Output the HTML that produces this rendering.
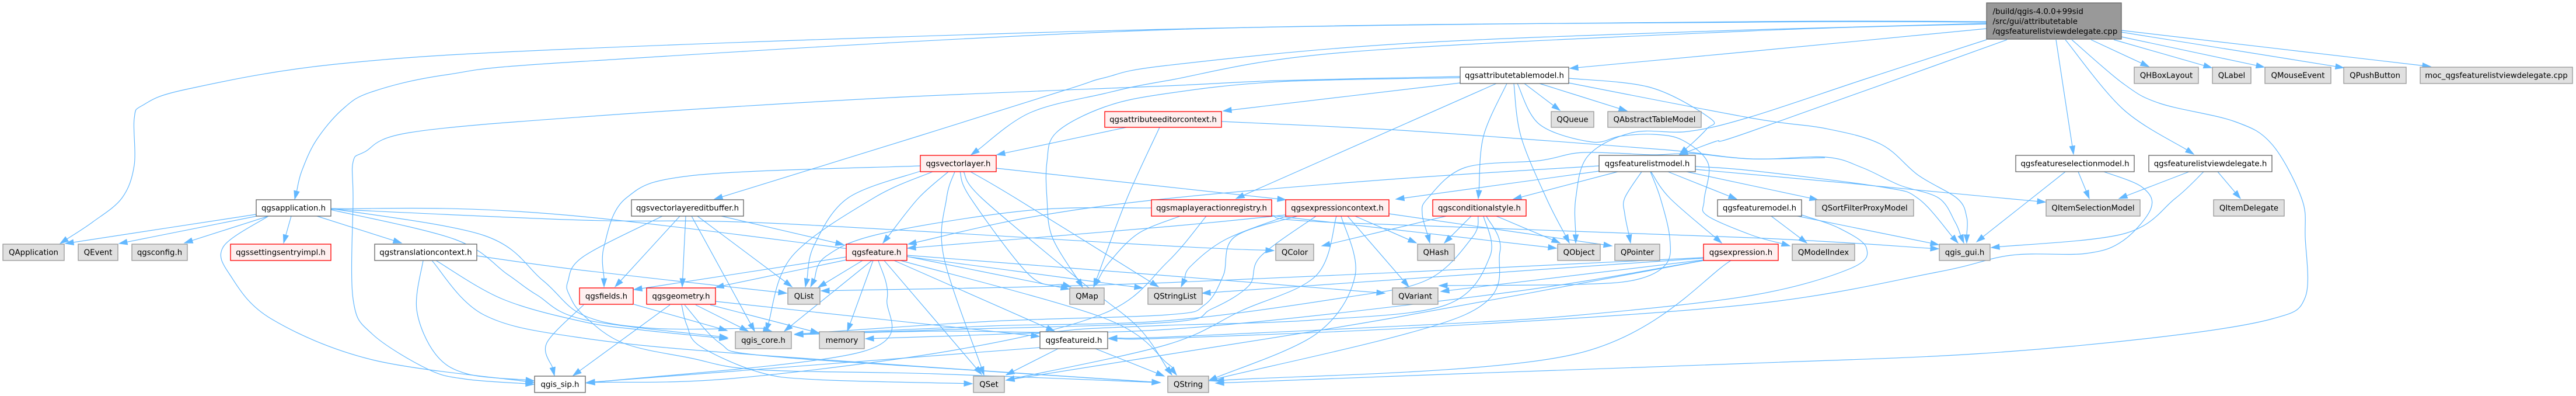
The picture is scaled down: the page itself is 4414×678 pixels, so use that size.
<!DOCTYPE html>
<html><head><meta charset="utf-8"><style>
html,body{margin:0;padding:0;background:#fff;width:4414px;height:678px;overflow:hidden}
svg{display:block}
text{font-family:"DejaVu Sans","Liberation Sans",sans-serif;font-size:13.33px;fill:#000;text-anchor:middle}
.g{fill:#e0e0e0;stroke:#999;stroke-width:1.33}
.w{fill:#fff;stroke:#666;stroke-width:1.33}
.r{fill:#fff0f0;stroke:#f00;stroke-width:1.33}
.m{fill:#999;stroke:#666;stroke-width:1.33}
#e path{fill:none;stroke:#63b8ff;stroke-width:1.2}
#e polygon{fill:#63b8ff;stroke:#63b8ff;stroke-width:1}
</style></head><body>
<svg xmlns="http://www.w3.org/2000/svg" width="4414" height="678" viewBox="0 0 4414 678">
<rect width="4414" height="678" fill="#fff"/>
<g id="e"></g>
<g id="n">
<rect class="m" x="3404" y="5" width="231" height="62"/>
<text x="3414.5" y="24" style="text-anchor:start">/build/qgis-4.0.0+99sid</text>
<text x="3414.5" y="41" style="text-anchor:start">/src/gui/attributetable</text>
<text x="3414.5" y="58" style="text-anchor:start">/qgsfeaturelistviewdelegate.cpp</text>
<rect class="w" x="439" y="342" width="128" height="28"/><text x="503" y="360.5">qgsapplication.h</text>
<rect class="g" x="5" y="418" width="105" height="28"/><text x="57.5" y="436.5">QApplication</text>
<rect class="g" x="134" y="418" width="68" height="28"/><text x="168" y="436.5">QEvent</text>
<rect class="g" x="226" y="418" width="95" height="28"/><text x="273.5" y="436.5">qgsconfig.h</text>
<rect class="r" x="395" y="418" width="172" height="28"/><text x="481" y="436.5">qgssettingsentryimpl.h</text>
<rect class="w" x="642" y="418" width="175" height="28"/><text x="729.5" y="436.5">qgstranslationcontext.h</text>
<rect class="w" x="916" y="644" width="87" height="28"/><text x="959.5" y="662.5">qgis_sip.h</text>
<rect class="w" x="1082" y="342" width="192" height="28"/><text x="1178" y="360.5">qgsvectorlayereditbuffer.h</text>
<rect class="r" x="1450" y="418" width="104" height="28"/><text x="1502" y="436.5">qgsfeature.h</text>
<rect class="r" x="993" y="493" width="92" height="28"/><text x="1039" y="511.5">qgsfields.h</text>
<rect class="r" x="1108" y="493" width="118" height="28"/><text x="1167" y="511.5">qgsgeometry.h</text>
<rect class="g" x="1350" y="493" width="55" height="28"/><text x="1377.5" y="511.5">QList</text>
<rect class="g" x="1833" y="493" width="59" height="28"/><text x="1862.5" y="511.5">QMap</text>
<rect class="g" x="1967" y="493" width="93" height="28"/><text x="2013.5" y="511.5">QStringList</text>
<rect class="g" x="1260" y="568" width="96" height="29"/><text x="1308" y="587">qgis_core.h</text>
<rect class="g" x="1404" y="568" width="77" height="29"/><text x="1442.5" y="587">memory</text>
<rect class="w" x="1782" y="568" width="116" height="29"/><text x="1840" y="587">qgsfeatureid.h</text>
<rect class="g" x="1668" y="644" width="53" height="28"/><text x="1694.5" y="662.5">QSet</text>
<rect class="r" x="1577" y="266" width="130" height="28"/><text x="1642" y="284.5">qgsvectorlayer.h</text>
<rect class="r" x="1893" y="191" width="200" height="27"/><text x="1993" y="209">qgsattributeeditorcontext.h</text>
<rect class="w" x="2502" y="115" width="186" height="28"/><text x="2595" y="133.5">qgsattributetablemodel.h</text>
<rect class="g" x="2658" y="191" width="73" height="27"/><text x="2694.5" y="209">QQueue</text>
<rect class="g" x="2755" y="191" width="160" height="27"/><text x="2835" y="209">QAbstractTableModel</text>
<rect class="w" x="2740" y="266" width="165" height="28"/><text x="2822.5" y="284.5">qgsfeaturelistmodel.h</text>
<rect class="r" x="1973" y="342" width="206" height="28"/><text x="2076" y="360.5">qgsmaplayeractionregistry.h</text>
<rect class="r" x="2203" y="342" width="177" height="28"/><text x="2291.5" y="360.5">qgsexpressioncontext.h</text>
<rect class="r" x="2455" y="342" width="160" height="28"/><text x="2535" y="360.5">qgsconditionalstyle.h</text>
<rect class="w" x="2943" y="342" width="144" height="28"/><text x="3015" y="360.5">qgsfeaturemodel.h</text>
<rect class="g" x="2186" y="418" width="65" height="28"/><text x="2218.5" y="436.5">QColor</text>
<rect class="g" x="2429" y="418" width="63" height="28"/><text x="2460.5" y="436.5">QHash</text>
<rect class="g" x="2669" y="418" width="73" height="28"/><text x="2705.5" y="436.5">QObject</text>
<rect class="g" x="2767" y="418" width="77" height="28"/><text x="2805.5" y="436.5">QPointer</text>
<rect class="r" x="2919" y="418" width="128" height="28"/><text x="2983" y="436.5">qgsexpression.h</text>
<rect class="g" x="2386" y="493" width="78" height="28"/><text x="2425" y="511.5">QVariant</text>
<rect class="g" x="2001" y="644" width="70" height="28"/><text x="2036" y="662.5">QString</text>
<rect class="g" x="3657" y="115" width="110" height="28"/><text x="3712" y="133.5">QHBoxLayout</text>
<rect class="g" x="3791" y="115" width="66" height="28"/><text x="3824" y="133.5">QLabel</text>
<rect class="g" x="3881" y="115" width="113" height="28"/><text x="3937.5" y="133.5">QMouseEvent</text>
<rect class="w" x="3454" y="266" width="203" height="28"/><text x="3555.5" y="284.5">qgsfeatureselectionmodel.h</text>
<rect class="w" x="3682" y="266" width="211" height="28"/><text x="3787.5" y="284.5">qgsfeaturelistviewdelegate.h</text>
<rect class="g" x="3111" y="342" width="168" height="28"/><text x="3195" y="360.5">QSortFilterProxyModel</text>
<rect class="g" x="3506" y="342" width="161" height="28"/><text x="3586.5" y="360.5">QItemSelectionModel</text>
<rect class="g" x="3793" y="342" width="121" height="28"/><text x="3853.5" y="360.5">QItemDelegate</text>
<rect class="g" x="3071" y="418" width="107" height="28"/><text x="3124.5" y="436.5">QModelIndex</text>
<rect class="g" x="3323" y="418" width="87" height="28"/><text x="3366.5" y="436.5">qgis_gui.h</text>
<rect class="g" x="4016" y="115" width="107" height="28"/><text x="4069.5" y="133.5">QPushButton</text>
<rect class="g" x="4147" y="115" width="261" height="28"/><text x="4277.5" y="133.5">moc_qgsfeaturelistviewdelegate.cpp</text>
</g>
</svg>
<script>
var E=[
"3404,37 3000,37 2000,50 1000,83 574,110 319,153 245,180 230,203 230,283 209,339 159,380 103,417",
"3404,38 3000,38 2000,51 1000,105 765,128 638,157 587,187 542,240 517,293 505,341",
"3404,40 3000,51 2400,75 2000,112 1893,133 1829,153 1574,233 1224,341",
"3404,41 3000,53 2300,90 2000,138 1893,160 1765,193 1664,265",
"3404,49 3000,88 2690,117",
"3404,68 3200,134 3000,200 2893,225 2797,227 2721,267 2700,340 2700,416",
"3439,68 3000,225 2940,242 2878,265",
"3523,68 3553,264",
"3539,68 3638,187 3759,264",
"3550,68 3638,143 3701,177 3829,208 3893,247 3944,340 3950,406 3950,509 3893,546 3701,577 3383,606 3000,622 2500,640 2083,656",
"3583,68 3682,114","3622,68 3790,116","3635,63 3880,115","3635,55 4016,116","3635,52 4165,114",
"2502,131 2191,138 2000,147 1510,168 1000,200 702,227 625,260 605,277 605,340 605,512 638,572 733,632 797,649 915,658",
"2502,133 2191,140 2000,160 1893,183 1810,227 1794,277 1794,340 1803,406 1855,492",
"2502,142 2096,190","2564,143 2118,340",
"2582,143 2542,233 2533,340",
"2594,143 2606,233 2650,340 2689,416",
"2600,143 2638,213 2727,243 2777,233 2833,230 2883,240 2927,280 2920,343 2925,369 3000,402 3067,421",
"2688,142 3000,202 3128,220 3223,247 3287,300 3354,340 3370,372 3370,416",
"2688,134 2829,150 2931,203 2925,220 2900,245 2878,264",
"2612,143 2673,189","2638,143 2788,190",
"1930,218 1708,265","1987,218 1931,340 1874,491",
"2093,208 2383,222 2638,240 2861,257 3000,272 3128,269 3191,287 3255,317 3322,339 3350,380 3365,416",
"3127,270 3000,272 2900,263 2833,265 2765,262 2701,262 2638,275 2510,287 2446,340 2437,366 2450,416",
"2740,284 2383,307 2000,340 1765,372 1556,418",
"2740,293 2392,341","2772,294 2593,341",
"2813,294 2784,339 2784,366 2794,416",
"2828,294 2845,339 2861,406 2855,452 2803,479 2701,487 2466,489",
"2829,294 2861,339 2950,416",
"2858,294 2976,341",
"2905,285 3000,292 3223,320 3287,340 3355,416",
"2905,290 3160,313 3220,319 3440,340 3505,346",
"2890,294 3115,342",
"1973,356 1765,360 1510,400 1415,439 1389,491",
"2022,370 1950,400 1900,450 1874,491",
"2067,370 2000,449 1893,536 1638,599 1255,648 1005,655",
"2179,369 2667,425",
"2179,369 2287,381 3000,407 3322,426",
"2203,368 2000,388 1555,425",
"2204,370 2100,410 2040,456 2024,491",
"2223,370 2115,406 2096,472 2064,522 2000,539 1700,550 1362,572",
"2255,370 2160,439 2140,489 2076,529 2000,552 1600,565 1362,573",
"2290,370 2255,472 2127,532 2000,590 1724,651",
"2298,370 2322,472 2255,572 2071,652",
"2309,370 2414,491","2322,370 2427,416","2380,366 2762,421",
"2478,370 2265,421","2521,370 2475,416","2564,370 2673,416",
"2533,370 2523,406 2446,479 2300,510 2000,549 1700,558 1362,573",
"2542,370 2553,439 2478,522 2250,548 2000,557 1860,563 1773,570 1483,580",
"2547,370 2570,432 2510,539 2071,652",
"2919,441 2000,484 1407,498",
"2919,442 2060,502","2919,445 2469,499",
"2919,446 2574,502 2000,564 1600,567 1362,573",
"2919,446 2383,545 2000,607 1724,651",
"2966,446 2700,606 2083,652",
"439,367 112,417","440,370 204,417","460,370 316,416","499,370 486,416","543,370 688,416",
"460,370 383,422 395,472 465,546 638,616 915,655",
"567,357 1000,371 1958,493",
"567,358 1000,377 1319,382 2000,421 2183,429",
"567,359 780,410 870,470 920,505 1000,547 1247,578",
"567,357 829,403 930,480 1000,540 1117,562 1300,562 1322,567",
"817,438 1000,463 1348,502",
"725,446 714,530 746,606 800,640 915,652",
"740,446 829,539 1000,579 1300,608 1988,655",
"747,446 861,512 1000,551 1100,565 1247,580",
"1135,370 1000,439 973,482 976,506 1000,540 1067,587 1183,613 1300,633 1600,640 1988,655",
"1165,370 1054,491","1175,370 1169,491","1185,370 1293,567","1195,370 1357,491","1236,370 1446,419",
"1577,284 1191,300 1073,339 1035,422 1035,491",
"1577,293 1453,339 1395,420 1380,491",
"1598,294 1497,339 1357,439 1312,567",
"1625,294 1574,339 1513,416",
"1636,294 1622,339 1617,439 1686,642",
"1645,294 1663,339 1765,472 1835,491",
"1651,294 1682,339 1850,480 1950,560 2008,642",
"1663,294 1740,339 1985,491",
"1707,288 2000,320 2203,342",
"1450,440 1086,496","1450,445 1226,492","1478,446 1402,492","1494,446 1344,567","1496,446 1452,567",
"1505,446 1520,512 1478,602 1005,656",
"1515,446 1682,641","1532,446 1807,567",
"1543,446 1893,545 2000,622 2016,642",
"1554,439 1832,495",
"1554,437 2000,472 2373,502",
"1086,521 1246,566","1000,522 937,587 950,643",
"1148,522 982,643","1192,522 1282,567","1217,522 1403,570","1226,516 1781,576",
"1168,522 1177,557 1200,593 1300,637 1400,650 1666,657",
"1173,522 1233,587 1300,608 1638,632 1988,655",
"1783,595 1005,655","1813,597 1724,642","1877,597 1995,644",
"3035,370 3096,416","3080,370 3322,419",
"3087,368 3150,390 3198,424 3170,460 3000,506 2700,540 2446,556 2000,577 1900,579",
"3539,294 3387,414","3561,294 3580,340",
"3605,294 3670,320 3686,356 3638,412 3574,434 3446,437 3319,466 3000,521 2446,560 2000,579 1900,580",
"3751,294 3631,340","3776,294 3727,340 3640,400 3412,424","3800,294 3839,340"
];
var g=document.getElementById("e"),N="http://www.w3.org/2000/svg",L=14,W=4.6;
function f(v){return v.toFixed(1)}
E.forEach(function(s){
 var p=s.split(" ").map(function(a){return a.split(",").map(Number)});
 var n=p.length,t=p[n-1],q=p[n-2],dx=t[0]-q[0],dy=t[1]-q[1],d=Math.sqrt(dx*dx+dy*dy)||1;dx/=d;dy/=d;
 var b=[t[0]-dx*L,t[1]-dy*L];p[n-1]=b;
 var c="M"+f(p[0][0])+" "+f(p[0][1]);
 for(var i=0;i<n-1;i++){
  var a0=p[i-1]||p[i],a1=p[i],a2=p[i+1],a3=p[i+2]||p[i+1];
  c+="C"+f(a1[0]+(a2[0]-a0[0])/6)+" "+f(a1[1]+(a2[1]-a0[1])/6)+" "+f(a2[0]-(a3[0]-a1[0])/6)+" "+f(a2[1]-(a3[1]-a1[1])/6)+" "+f(a2[0])+" "+f(a2[1]);
 }
 var e=document.createElementNS(N,"path");e.setAttribute("d",c);g.appendChild(e);
 var h=document.createElementNS(N,"polygon");
 h.setAttribute("points",f(t[0])+","+f(t[1])+" "+f(b[0]-dy*W)+","+f(b[1]+dx*W)+" "+f(b[0]+dy*W)+","+f(b[1]-dx*W));
 g.appendChild(h);
});
</script>
</body></html>
